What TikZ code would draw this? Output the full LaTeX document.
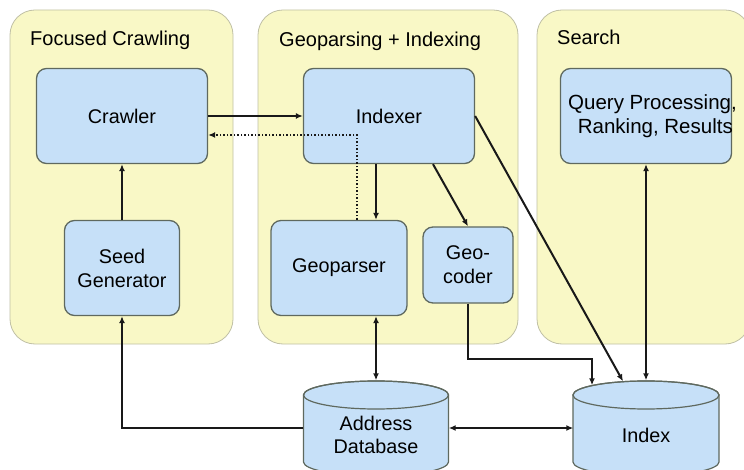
\documentclass[tikz,border=0pt]{standalone}
\usepackage{fontspec}
\setmainfont{Liberation Sans}
\usetikzlibrary{arrows.meta,calc}
\definecolor{panelfill}{RGB}{249,248,198}
\definecolor{paneldraw}{RGB}{192,192,165}
\definecolor{boxfill}{RGB}{198,224,248}
\definecolor{boxdraw}{RGB}{95,105,95}
\definecolor{linecol}{RGB}{25,25,25}
\tikzset{
  panel/.style={draw=paneldraw, fill=panelfill, line width=0.8pt, rounded corners=25pt, inner sep=0pt},
  ptitle/.style={anchor=base west, inner sep=0pt, font=\fontsize{20}{23}\selectfont},
  bbox/.style={draw=boxdraw, fill=boxfill, line width=1.3pt, rounded corners=10pt, inner sep=0pt,
    align=center, font=\fontsize{19.8}{24}\selectfont},
  cylnode/.style={minimum width=145pt, minimum height=95pt, inner sep=0pt},
  cyl/.style={draw=boxdraw, fill=boxfill, line width=1.2pt},
  cyltext/.style={align=center, inner sep=0pt, font=\fontsize{19.8}{23}\selectfont},
  arr/.style={draw=linecol, line width=2pt, -{Latex[length=7pt,width=6pt]}},
  darr/.style={draw=linecol, line width=2pt, {Latex[length=7pt,width=6pt]}-{Latex[length=7pt,width=6pt]}},
  dotarr/.style={draw=linecol, line width=1.5pt, dotted, -{Latex[length=7pt,width=6pt]}}
}
\begin{document}
\begin{tikzpicture}[x=1pt,y=-1pt]
\clip (0,0) rectangle (744,470);
\fill[white] (0,0) rectangle (744,470);
% panels
\node[panel, minimum width=223pt, minimum height=334pt] (p1) at (121.5,177) {};
\node[panel, minimum width=260pt, minimum height=334pt] (p2) at (388,177) {};
\node[panel, minimum width=213pt, minimum height=334pt] (p3) at (643.5,177) {};
\node[ptitle] (t1) at (30,46) {Focused Crawling};
\node[ptitle] (t2) at (279,47) {Geoparsing + Indexing};
\node[ptitle] (t3) at (557,45) {Search};
% boxes
\node[bbox, minimum width=171pt, minimum height=95pt] (crawler) at (122,116) {Crawler};
\node[bbox, minimum width=115pt, minimum height=95pt] (seed) at (122,268) {Seed\\Generator};
\node[bbox, minimum width=171pt, minimum height=95pt] (indexer) at (389,116) {Indexer};
\node[bbox, minimum width=136pt, minimum height=95pt] (geoparser) at (339,268) {Geoparser};
\node[bbox, minimum width=90pt, minimum height=76pt] (geocoder) at (468,265) {Geo-\\coder};
\node[bbox, minimum width=171pt, minimum height=95pt] (query) at (646,116) {};
\node[cyltext, font=\fontsize{20.5}{24}\selectfont] (qtext) at (652.5,116) {Query Processing,\\\ Ranking, Results};
% cylinders
\node[cylnode] (adb) at (376,428) {};
\node[cylnode] (idx) at (646,428) {};
\filldraw[cyl] (303.5,395) -- (303.5,462) arc[start angle=180,end angle=360,x radius=72.5pt,y radius=14pt] -- (448.5,395) arc[start angle=0,end angle=180,x radius=72.5pt,y radius=14pt] -- cycle;
\draw[cyl, fill=none] (376,395) ellipse[x radius=72.5pt,y radius=14pt];
\filldraw[cyl] (573,395) -- (573,462) arc[start angle=180,end angle=360,x radius=73pt,y radius=14pt] -- (719,395) arc[start angle=0,end angle=180,x radius=73pt,y radius=14pt] -- cycle;
\draw[cyl, fill=none] (646,395) ellipse[x radius=73pt,y radius=14pt];
\node[cyltext] (adbtext) at ($(adb)+(0,7)$) {Address\\Database};
\node[cyltext] (idxtext) at ($(idx)+(0,7)$) {Index};
% connectors
\draw[arr] (crawler.east) -- (indexer.west);
\coordinate (d1) at ($(geoparser.north)+(18,0)$);
\coordinate (d2) at ($(crawler.east)+(0,19)$);
\draw[dotarr] (d1) |- (d2);
\coordinate (a1) at ($(indexer.south)+(-13,0)$);
\draw[arr] (a1) -- (a1 |- geoparser.north);
\coordinate (a2) at ($(indexer.south)+(44,0)$);
\draw[arr] (a2) -- (geocoder.north);
\coordinate (a3) at ($(idx.north)+(-23,1)$);
\draw[arr] (indexer.east) -- (a3);
\coordinate (a4) at ($(idx.north)+(-54,5)$);
\coordinate (a5) at ($(a4)+(0,-26)$);
\draw[arr] (geocoder.south) |- (a5) -- (a4);
\draw[darr] (query.south) -- (idx.north);
\draw[darr] (adb.north |- geoparser.south) -- (adb.north);
\draw[darr] (adb.east) -- (idx.west);
\draw[arr] (adb.west) -| (seed.south);
\draw[arr] (seed.north) -- (crawler.south);
\end{tikzpicture}
\end{document}
